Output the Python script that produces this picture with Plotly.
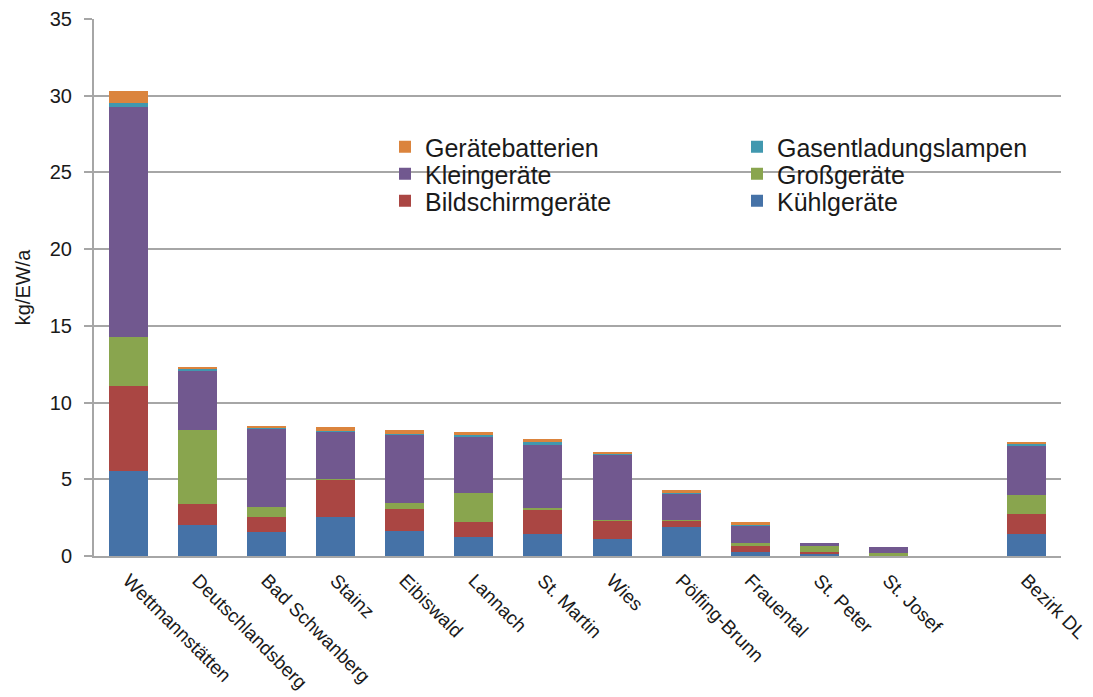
import plotly.graph_objects as go

categories = ["Wettmannstätten", "Deutschlandsberg", "Bad Schwanberg", "Stainz", "Eibiswald",
              "Lannach", "St. Martin", "Wies", "Pölfing-Brunn", "Frauental", "St. Peter",
              "St. Josef", " ", "Bezirk DL"]

kuehlgeraete      = [5.56, 2.02, 1.54, 2.52, 1.61, 1.24, 1.43, 1.13, 1.91, 0.26, 0.17, 0.02, None, 1.43]
bildschirmgeraete = [5.50, 1.37, 0.98, 2.46, 1.47, 0.98, 1.57, 1.17, 0.39, 0.39, 0.09, 0.01, None, 1.29]
grossgeraete      = [3.24, 4.82, 0.67, 0.02, 0.39, 1.87, 0.13, 0.02, 0.02, 0.18, 0.39, 0.15, None, 1.24]
kleingeraete      = [14.95, 3.85, 5.11, 3.10, 4.44, 3.69, 4.09, 4.28, 1.77, 1.19, 0.18, 0.40, None, 3.26]
gasentladungslampen = [0.28, 0.11, 0.03, 0.05, 0.05, 0.11, 0.21, 0.03, 0.03, 0.03, 0.00, 0.00, None, 0.05]
geraetebatterien  = [0.78, 0.17, 0.17, 0.26, 0.25, 0.21, 0.18, 0.13, 0.18, 0.17, 0.00, 0.00, None, 0.14]

y_ticks = [0, 5, 10, 15, 20, 25, 30, 35]
y_title = "kg/EW/a"

# stacking order bottom -> top, with legend slot
series = [
    ("Kühlgeräte", kuehlgeraete, "#4572A7", "legend6"),
    ("Bildschirmgeräte", bildschirmgeraete, "#AA4643", "legend5"),
    ("Großgeräte", grossgeraete, "#89A54E", "legend4"),
    ("Kleingeräte", kleingeraete, "#71588F", "legend3"),
    ("Gasentladungslampen", gasentladungslampen, "#4198AF", "legend2"),
    ("Gerätebatterien", geraetebatterien, "#DB843D", "legend"),
]

fig = go.Figure()
for name, vals, color, lg in series:
    fig.add_trace(go.Bar(x=categories, y=vals, name=name, marker_color=color,
                         marker_line_width=0, legend=lg))

font_family = "Liberation Sans, Arial, sans-serif"
text_color = "#1a1a1a"
grid_color = "#a6a6a6"

# plot area: x 94..1061, y 19..556
L, R, T, B = 94, 32, 19, 141
W, H = 1093, 697
pw, ph = W - L - R, H - T - B

def px_x(x):
    return (x - L) / pw

def px_y(y):
    return (H - B - y) / ph

leg_left_x = px_x(385)
leg_right_x = px_x(737)
rows = [px_y(147), px_y(174), px_y(201)]

def leg(x, y):
    return dict(x=x, y=y, xanchor="left", yanchor="middle", bgcolor="rgba(255,255,255,0)",
                borderwidth=0, font=dict(family=font_family, size=25, color=text_color))

fig.update_layout(
    template="none",
    width=W, height=H,
    autosize=False,
    margin=dict(l=L, r=R, t=T, b=B, pad=0, autoexpand=False),
    barmode="stack",
    bargap=0.435,
    paper_bgcolor="white",
    plot_bgcolor="white",
    font=dict(family=font_family, color=text_color),
    showlegend=True,
    legend=leg(leg_left_x, rows[0]),
    legend2=leg(leg_right_x, rows[0]),
    legend3=leg(leg_left_x, rows[1]),
    legend4=leg(leg_right_x, rows[1]),
    legend5=leg(leg_left_x, rows[2]),
    legend6=leg(leg_right_x, rows[2]),
    xaxis=dict(
        type="category",
        categoryorder="array", categoryarray=categories,
        tickangle=45,
        automargin=False,
        tickfont=dict(family=font_family, size=19, color=text_color),
        showline=True, linecolor=grid_color, linewidth=2,
        ticks="", showgrid=False, zeroline=False,
        ticklabelstandoff=4,
        fixedrange=True,
    ),
    yaxis=dict(
        range=[0, 35],
        tickvals=y_ticks,
        automargin=False,
        tickfont=dict(family=font_family, size=20, color=text_color),
        showgrid=True, gridcolor=grid_color, gridwidth=2,
        zeroline=False,
        showline=True, linecolor=grid_color, linewidth=2,
        ticks="outside", ticklen=8, tickcolor=grid_color, tickwidth=2,
        ticklabelstandoff=8,
        title=dict(text=y_title, font=dict(family=font_family, size=20, color=text_color), standoff=14),
        fixedrange=True,
    ),
    shapes=[dict(type="rect", xref="paper", yref="paper",
                 x0=px_x(370), x1=1.0, y0=px_y(215), y1=px_y(128),
                 fillcolor="white", line=dict(width=0), layer="between")],
)

fig.write_html("out.html")
